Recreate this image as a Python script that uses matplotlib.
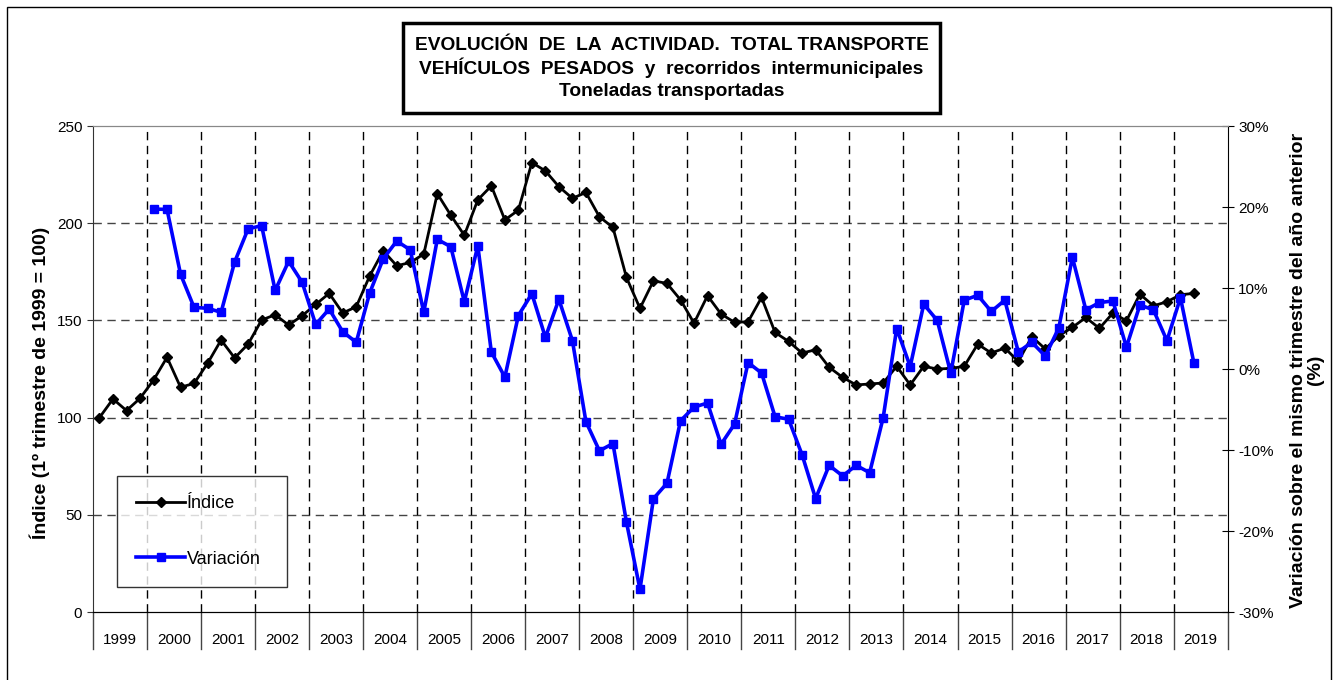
import matplotlib
matplotlib.use("Agg")
import matplotlib.pyplot as plt
from matplotlib.patches import Rectangle
from matplotlib.lines import Line2D
from matplotlib.ticker import FuncFormatter

plt.rcParams['font.family'] = ['Liberation Sans', 'DejaVu Sans']

years = list(range(1999, 2020))

# indice, 1999 Q1 .. 2019 Q2
indice = [100, 109.6, 103.6, 109.9, 119.3, 131.0, 115.6, 117.6, 127.9, 139.9,
          130.7, 137.8, 150.2, 152.9, 147.6, 152.4, 158.2, 163.9, 153.8, 157.0,
          172.9, 185.8, 178.1, 179.8, 184.1, 215.2, 204.1, 193.8, 212.0, 219.2,
          201.7, 206.7, 231.2, 226.9, 218.8, 212.8, 215.8, 203.3, 197.8, 172.1,
          156.2, 170.4, 169.0, 160.6, 148.6, 162.7, 153.3, 149.0, 149.3, 161.8,
          143.8, 139.2, 133.2, 134.9, 125.9, 120.7, 116.8, 117.3, 117.8, 126.4,
          116.8, 126.4, 125.0, 125.3, 126.4, 137.8, 133.2, 135.8, 128.9, 141.6,
          135.3, 142.1, 146.4, 151.5, 145.9, 153.8, 149.8, 163.5, 157.5, 159.6,
          163.2, 163.9]

# variacion (%), 2000 Q1 .. 2019 Q2
variacion = [19.75, 19.7, 11.7, 7.6, 7.5, 7.0, 13.2, 17.3, 17.7, 9.7,
             13.3, 10.7, 5.5, 7.4, 4.6, 3.3, 9.4, 13.6, 15.8, 14.7,
             7.0, 16.0, 15.1, 8.3, 15.2, 2.1, -1.0, 6.6, 9.3, 3.9,
             8.6, 3.5, -6.5, -10.1, -9.2, -18.9, -27.2, -16.0, -14.1, -6.4,
             -4.7, -4.2, -9.3, -6.8, 0.8, -0.5, -5.9, -6.2, -10.6, -16.0,
             -11.9, -13.2, -11.9, -12.8, -6.0, 5.0, 0.3, 8.0, 6.0, -0.5,
             8.5, 9.1, 7.1, 8.5, 2.1, 3.3, 1.6, 5.1, 13.8, 7.3,
             8.2, 8.4, 2.7, 7.9, 7.3, 3.5, 8.8, 0.7]

x_ind = list(range(len(indice)))
x_var = list(range(4, 4 + len(variacion)))
n_slots = 4 * len(years)

fig = plt.figure(figsize=(13.38, 6.8), dpi=100)
ax = fig.add_axes([0.0693, 0.1, 0.8483, 0.7147])
ax2 = ax.twinx()

ax.set_xlim(-0.5, n_slots - 0.5)
ax.set_ylim(0, 250)
ax2.set_ylim(-30, 30)

ax.set_yticks(range(0, 251, 50))
ax2.set_yticks(range(-30, 31, 10))
ax2.yaxis.set_major_formatter(FuncFormatter(lambda v, p: f"{int(v)}%"))
ax.set_xticks([])
ax.tick_params(axis='y', direction='out', length=4, labelsize=11, colors='#333333', labelcolor='black')
ax2.tick_params(axis='y', direction='inout', length=8, labelsize=11)

ax.spines['top'].set_color('#888888')
ax2.spines['top'].set_color('#888888')
ax.spines['left'].set_color('#333333')
ax2.spines['left'].set_visible(False)
ax.spines['right'].set_visible(False)
ax2.spines['right'].set_color('black')
ax2.spines['bottom'].set_color('black')

# grid
for v in [50, 100, 150, 200]:
    ax.axhline(v, color='#444444', lw=1, dashes=(6, 4), zorder=1)
for k in range(1, len(years)):
    ax.axvline(4 * k - 0.5, color='black', lw=1, dashes=(6, 4), zorder=1)

# category table below the axis
trans = ax.get_xaxis_transform()
for k in range(len(years) + 1):
    ax.add_line(Line2D([4 * k - 0.5, 4 * k - 0.5], [0, -0.076], transform=trans,
                       color='#444444', lw=1, clip_on=False))
for k, yr in enumerate(years):
    ax.text(4 * k + 1.5, -0.058, str(yr), transform=trans, ha='center', va='center',
            fontsize=11)

l1, = ax.plot(x_ind, indice, color='black', lw=2, marker='D', markersize=5,
              label='Índice', zorder=3)
l2, = ax2.plot(x_var, variacion, color='#0000FF', lw=2.6, marker='s', markersize=6,
               label='Variación', zorder=3)

leg = ax2.legend(handles=[l1, l2], loc='lower left',
                 bbox_to_anchor=(0.0214, 0.0514, 0.1497, 0.2266), mode='expand',
                 fontsize=13, frameon=True, fancybox=False, edgecolor='black',
                 labelspacing=2.14, handlelength=2.7, handletextpad=0.1,
                 borderpad=1.07, borderaxespad=0)
leg.get_frame().set_linewidth(1)

fig.text(40 / 1338, 1 - 383 / 680, 'Índice (1º trimestre de 1999 = 100)', rotation=90,
         ha='center', va='center', fontsize=14, fontweight='bold')
fig.text(1307 / 1338, 1 - 370 / 680,
         'Variación sobre el mismo trimestre del año anterior\n(%)', rotation=90,
         ha='center', va='center', fontsize=14, fontweight='bold', multialignment='center',
         linespacing=1.0)

# title box
fig.patches.append(Rectangle((403 / 1338, 1 - 113 / 680), 537 / 1338, 90 / 680,
                             transform=fig.transFigure, fill=False, lw=2.5,
                             edgecolor='black'))
title_lines = ['EVOLUCIÓN  DE  LA  ACTIVIDAD.  TOTAL TRANSPORTE',
               'VEHÍCULOS  PESADOS  y  recorridos  intermunicipales',
               'Toneladas transportadas']
for j, t in enumerate(title_lines):
    fig.text(671.5 / 1338, 1 - (45 + 23 * j) / 680, t, ha='center', va='center',
             fontsize=13.8, fontweight='bold')

# outer border
fig.patches.append(Rectangle((7 / 1338, -0.02), 1324 / 1338, 1.02 - 7 / 680,
                             transform=fig.transFigure, fill=False, lw=1,
                             edgecolor='black'))

fig.savefig('out.png', dpi=100)
